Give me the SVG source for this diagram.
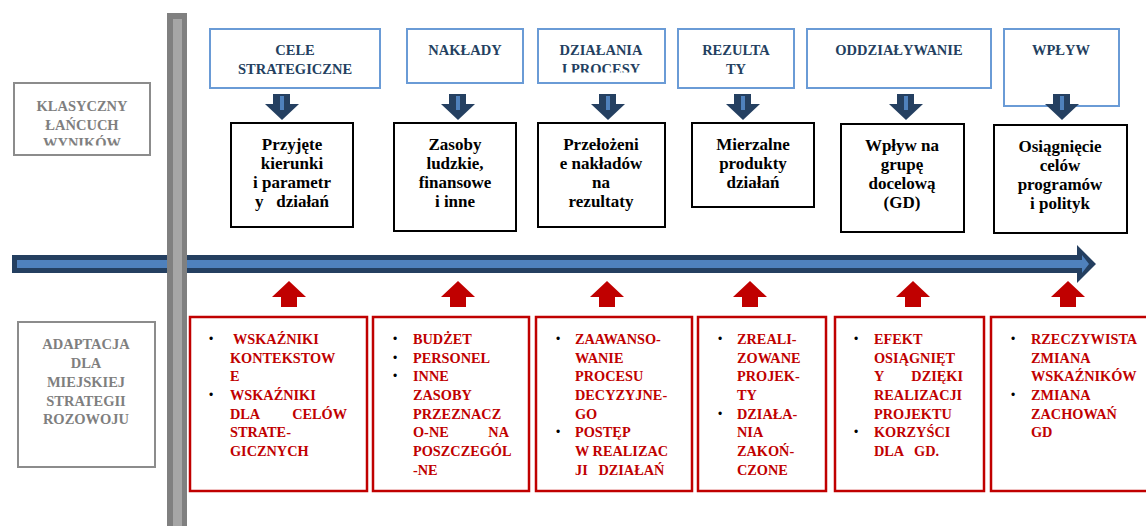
<svg xmlns="http://www.w3.org/2000/svg" width="1146" height="526" viewBox="0 0 1146 526">
<style>
.top{fill:#fff;stroke:#6a9bd6;stroke-width:2}
.toptx{font-family:"Liberation Serif",serif;font-weight:bold;font-size:14.5px;fill:#243f60;text-anchor:middle}
.blk{fill:#fff;stroke:#000;stroke-width:2}
.blktx{font-family:"Liberation Serif",serif;font-weight:bold;font-size:17px;fill:#000;text-anchor:middle}
.red{fill:#fff;stroke:#c00000;stroke-width:2.5}
.redtx{font-family:"Liberation Serif",serif;font-weight:bold;font-size:14.3px;fill:#c00000}
.bul{font-family:"Liberation Sans",sans-serif;font-size:12px;fill:#000}
.gry{fill:#fff;stroke:#8c8c8c;stroke-width:2}
.grytx{font-family:"Liberation Serif",serif;font-weight:bold;font-size:14.5px;fill:#7f7f7f;text-anchor:middle}
.dn{fill:#254061}
.dnin{fill:#4f81bd}
.up{fill:#c00000}
</style>
<defs>
<clipPath id="c1"><rect x="14" y="83" width="136" height="62.5"/></clipPath>
<clipPath id="c2"><rect x="538" y="29" width="127" height="43.5"/></clipPath>
<g id="down"><path class="dn" d="M-9,94 H8 V104 H17 L0,120 L-17,104 H-9 Z"/><rect class="dnin" x="-2" y="96" width="4" height="14"/></g>
<path id="upar" class="up" d="M-8,307 V297 H-17 L0,281 L17,297 H8 V307 Z"/>
</defs>

<g id="timeline">
<path fill="#243f60" d="M12,255 H1077 V245 L1096,264 L1077,283 V273 H12 Z"/>
<path fill="#4f81bd" d="M17,260 H1082 V255 L1089,264 L1082,273 V268 H17 Z"/>
</g>

<g id="divider">
<rect x="167" y="13" width="20" height="513" fill="#808080"/>
<rect x="173" y="19" width="9" height="507" fill="#a6a6a6"/>
</g>

<g id="label-klasyczny">
<rect class="gry" x="14" y="83" width="136" height="72"/>
<text class="grytx" clip-path="url(#c1)"><tspan x="82" y="111">KLASYCZNY</tspan><tspan x="82" y="129.5">ŁAŃCUCH</tspan><tspan x="82" y="148">WYNIKÓW</tspan></text>
</g>
<g id="label-adaptacja">
<rect class="gry" x="18" y="322" width="137" height="145"/>
<text class="grytx"><tspan x="86" y="349">ADAPTACJA</tspan><tspan x="86" y="368">DLA</tspan><tspan x="86" y="387">MIEJSKIEJ</tspan><tspan x="86" y="406">STRATEGII</tspan><tspan x="86" y="424">ROZOWOJU</tspan></text>
</g>

<g id="top-cele"><rect class="top" x="210" y="29" width="170" height="59"/><text class="toptx"><tspan x="295" y="55">CELE</tspan><tspan x="295" y="74">STRATEGICZNE</tspan></text></g>
<g id="top-naklady"><rect class="top" x="407" y="29" width="116" height="54"/><text class="toptx" x="465" y="55">NAKŁADY</text></g>
<g id="top-dzialania"><rect class="top" x="538" y="29" width="127" height="54"/><text class="toptx" clip-path="url(#c2)"><tspan x="601" y="55">DZIAŁANIA</tspan><tspan x="601" y="73.5">I PROCESY</tspan></text></g>
<g id="top-rezultaty"><rect class="top" x="678" y="29" width="116" height="59"/><text class="toptx"><tspan x="736" y="55">REZULTA</tspan><tspan x="736" y="74">TY</tspan></text></g>
<g id="top-oddzialywanie"><rect class="top" x="807" y="29" width="184" height="59"/><text class="toptx" x="899" y="55">ODDZIAŁYWANIE</text></g>
<g id="top-wplyw"><rect class="top" x="1004" y="29" width="115" height="77"/><text class="toptx" x="1061" y="55">WPŁYW</text></g>

<g id="connectors">
<use href="#down" x="282"/>
<use href="#down" x="458"/>
<use href="#down" x="608"/>
<use href="#down" x="743"/>
<use href="#down" x="906"/>
<use href="#down" x="1062"/>
<use href="#upar" x="289"/>
<use href="#upar" x="458"/>
<use href="#upar" x="607"/>
<use href="#upar" x="750"/>
<use href="#upar" x="913"/>
<use href="#upar" x="1068"/>
</g>

<g id="mid-1"><rect class="blk" x="231" y="123" width="122" height="104"/><text class="blktx"><tspan x="292" y="150">Przyjęte</tspan><tspan x="292" y="169">kierunki</tspan><tspan x="292" y="188">i parametr</tspan><tspan x="292" y="207" xml:space="preserve">y   działań</tspan></text></g>
<g id="mid-2"><rect class="blk" x="394" y="123" width="122" height="108"/><text class="blktx"><tspan x="455" y="150">Zasoby</tspan><tspan x="455" y="169">ludzkie,</tspan><tspan x="455" y="188">finansowe</tspan><tspan x="455" y="207">i inne</tspan></text></g>
<g id="mid-3"><rect class="blk" x="538" y="123" width="127" height="104"/><text class="blktx"><tspan x="601" y="150">Przełożeni</tspan><tspan x="601" y="169">e nakładów</tspan><tspan x="601" y="188">na</tspan><tspan x="601" y="207">rezultaty</tspan></text></g>
<g id="mid-4"><rect class="blk" x="692" y="123" width="122" height="84"/><text class="blktx"><tspan x="753" y="150">Mierzalne</tspan><tspan x="753" y="169">produkty</tspan><tspan x="753" y="188">działań</tspan></text></g>
<g id="mid-5"><rect class="blk" x="841" y="124" width="123" height="108"/><text class="blktx"><tspan x="902" y="151">Wpływ na</tspan><tspan x="902" y="170">grupę</tspan><tspan x="902" y="189">docelową</tspan><tspan x="902" y="208">(GD)</tspan></text></g>
<g id="mid-6"><rect class="blk" x="994" y="125" width="133" height="108"/><text class="blktx"><tspan x="1060" y="152">Osiągnięcie</tspan><tspan x="1060" y="171">celów</tspan><tspan x="1060" y="190">programów</tspan><tspan x="1060" y="209">i polityk</tspan></text></g>

<g id="bot-1"><rect class="red" x="190" y="317" width="177" height="174"/>
<text class="bul"><tspan x="209" y="343">•</tspan><tspan x="209" y="399">•</tspan></text>
<text class="redtx"><tspan x="233" y="344">WSKAŹNIKI</tspan><tspan x="230" y="362.7">KONTEKSTOW</tspan><tspan x="230" y="381.3">E</tspan><tspan x="230" y="400">WSKAŹNIKI</tspan><tspan x="230" y="418.7">DLA</tspan><tspan x="230" y="437.3">STRATE-</tspan><tspan x="230" y="456">GICZNYCH</tspan></text>
<text class="redtx" x="347" y="418.7" text-anchor="end">CELÓW</text></g>

<g id="bot-2"><rect class="red" x="373" y="317" width="156" height="174"/>
<text class="bul"><tspan x="393" y="343">•</tspan><tspan x="393" y="361.7">•</tspan><tspan x="393" y="380.3">•</tspan></text>
<text class="redtx"><tspan x="413" y="344">BUDŻET</tspan><tspan x="413" y="362.7">PERSONEL</tspan><tspan x="413" y="381.3">INNE</tspan><tspan x="413" y="400">ZASOBY</tspan><tspan x="413" y="418.7">PRZEZNACZ</tspan><tspan x="413" y="437.3">O-NE</tspan><tspan x="413" y="456">POSZCZEGÓL</tspan><tspan x="413" y="474.7">-NE</tspan></text>
<text class="redtx" x="509" y="437.3" text-anchor="end">NA</text></g>

<g id="bot-3"><rect class="red" x="536" y="317" width="156" height="174"/>
<text class="bul"><tspan x="556" y="343">•</tspan><tspan x="556" y="436.3">•</tspan></text>
<text class="redtx"><tspan x="575" y="344">ZAAWANSO-</tspan><tspan x="575" y="362.7">WANIE</tspan><tspan x="575" y="381.3">PROCESU</tspan><tspan x="575" y="400">DECYZYJNE-</tspan><tspan x="575" y="418.7">GO</tspan><tspan x="575" y="437.3">POSTĘP</tspan><tspan x="575" y="456">W REALIZAC</tspan><tspan x="575" y="474.7" xml:space="preserve">JI   DZIAŁAŃ</tspan></text></g>

<g id="bot-4"><rect class="red" x="698" y="317" width="128" height="174"/>
<text class="bul"><tspan x="718" y="343">•</tspan><tspan x="718" y="417.7">•</tspan></text>
<text class="redtx"><tspan x="737" y="344">ZREALI-</tspan><tspan x="737" y="362.7">ZOWANE</tspan><tspan x="737" y="381.3">PROJEK-</tspan><tspan x="737" y="400">TY</tspan><tspan x="737" y="418.7">DZIAŁA-</tspan><tspan x="737" y="437.3">NIA</tspan><tspan x="737" y="456">ZAKOŃ-</tspan><tspan x="737" y="474.7">CZONE</tspan></text></g>

<g id="bot-5"><rect class="red" x="835" y="317" width="149" height="174"/>
<text class="bul"><tspan x="854" y="343">•</tspan><tspan x="854" y="436.3">•</tspan></text>
<text class="redtx"><tspan x="874" y="344">EFEKT</tspan><tspan x="874" y="362.7">OSIĄGNIĘT</tspan><tspan x="874" y="381.3">Y</tspan><tspan x="874" y="400">REALIZACJI</tspan><tspan x="874" y="418.7">PROJEKTU</tspan><tspan x="874" y="437.3">KORZYŚCI</tspan><tspan x="874" y="456" xml:space="preserve">DLA   GD.</tspan></text>
<text class="redtx" x="963" y="381.3" text-anchor="end">DZIĘKI</text></g>

<g id="bot-6"><rect class="red" x="991" y="317" width="160" height="174"/>
<text class="bul"><tspan x="1011" y="343">•</tspan><tspan x="1011" y="399">•</tspan></text>
<text class="redtx"><tspan x="1031" y="344">RZECZYWISTA</tspan><tspan x="1031" y="362.7">ZMIANA</tspan><tspan x="1031" y="381.3">WSKAŹNIKÓW</tspan><tspan x="1031" y="400">ZMIANA</tspan><tspan x="1031" y="418.7">ZACHOWAŃ</tspan><tspan x="1031" y="437.3">GD</tspan></text></g>
</svg>
